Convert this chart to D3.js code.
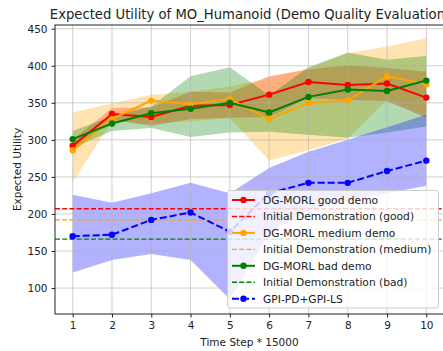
<!DOCTYPE html>
<html>
<head>
<meta charset="utf-8">
<script src="https://cdn.jsdelivr.net/npm/d3@7"></script>
<style>
  body { margin: 0; background: #fff; }
  text { font-family: "DejaVu Sans", sans-serif; fill: #222; }
</style>
</head>
<body>
<svg id="chart" width="443" height="351"></svg>
<script>
// Data
const steps = [1, 2, 3, 4, 5, 6, 7, 8, 9, 10];

const goodMean  = [292, 335, 331, 346, 347, 361, 378, 374, 376, 357];
const goodLow   = [284, 327, 319, 328, 330, 331, 356, 354, 352, 330];
const goodHigh  = [300, 343, 344, 365, 364, 386, 395, 401, 397, 392];

const mediumMean = [286, 328, 353, 348, 355, 328, 350, 353, 386, 375];
const mediumLow  = [243, 325, 322, 325, 329, 272, 286, 302, 354, 334];
const mediumHigh = [337, 349, 361, 365, 372, 383, 397, 417, 426, 437];

const badMean = [301, 322, 336, 342, 350, 337, 358, 368, 366, 380];
const badLow  = [289, 312, 316, 304, 310, 311, 307, 303, 310, 318];
const badHigh = [312, 332, 345, 386, 398, 360, 398, 418, 408, 413];

const gpiMean = [170, 172, 192, 202, 176, 228, 242, 242, 258, 272];
const gpiLow  = [121, 138, 146, 138, 85, 175, 205, 218, 228, 238];
const gpiHigh = [226, 215, 228, 242, 228, 262, 284, 300, 317, 334];

const initGood = 207, initMedium = 192, initBad = 166;

const xTicks = [1, 2, 3, 4, 5, 6, 7, 8, 9, 10];
const yTicks = [100, 150, 200, 250, 300, 350, 400, 450];

// The svg
const svg = d3.select("#chart");
const mLeft = 55, mRight = 444, mTop = 25, mBottom = 314;

const x = d3.scaleLinear().domain([0.55, 10.45]).range([mLeft, mRight]);
const y = d3.scaleLinear().domain([65, 455]).range([mBottom, mTop]);

const series = [
  {label: "DG-MORL good demo", color: "red", mean: goodMean, low: goodLow, high: goodHigh, dash: null},
  {label: "DG-MORL medium demo", color: "orange", mean: mediumMean, low: mediumLow, high: mediumHigh, dash: null},
  {label: "DG-MORL bad demo", color: "green", mean: badMean, low: badLow, high: badHigh, dash: null},
  {label: "GPI-PD+GPI-LS", color: "blue", mean: gpiMean, low: gpiLow, high: gpiHigh, dash: "7,3"}
];

// bands first
const area = d3.area()
  .x((d, i) => x(steps[i]))
  .y0(d => y(d[0]))
  .y1(d => y(d[1]));

series.forEach(s => {
  svg.append("path")
    .datum(s.low.map((v, i) => [v, s.high[i]]))
    .attr("d", area)
    .attr("fill", s.color)
    .attr("fill-opacity", 0.3);
});

// grid
const grid = svg.append("g");
xTicks.forEach(t => {
  grid.append("line")
    .attr("x1", x(t)).attr("x2", x(t))
    .attr("y1", mTop).attr("y2", mBottom)
    .attr("stroke", "#b0b0b0").attr("stroke-opacity", 0.6).attr("stroke-width", 1);
});
yTicks.forEach(t => {
  grid.append("line")
    .attr("x1", mLeft).attr("x2", mRight)
    .attr("y1", y(t)).attr("y2", y(t))
    .attr("stroke", "#b0b0b0").attr("stroke-opacity", 0.6).attr("stroke-width", 1);
});

// initial demonstration lines
const inits = [
  {label: "Initial Demonstration (good)", color: "red", value: initGood},
  {label: "Initial Demonstration (medium)", color: "orange", value: initMedium},
  {label: "Initial Demonstration (bad)", color: "green", value: initBad}
];
inits.forEach(h => {
  svg.append("line")
    .attr("x1", mLeft).attr("x2", mRight)
    .attr("y1", y(h.value)).attr("y2", y(h.value))
    .attr("stroke", h.color).attr("stroke-width", 1.4)
    .attr("stroke-dasharray", "5,2.2");
});

// mean lines
const line = d3.line()
  .x((d, i) => x(steps[i]))
  .y(d => y(d));

series.forEach(s => {
  svg.append("path")
    .datum(s.mean)
    .attr("d", line)
    .attr("fill", "none")
    .attr("stroke", s.color)
    .attr("stroke-width", 2)
    .attr("stroke-dasharray", s.dash);
  svg.append("g")
    .selectAll("circle")
    .data(s.mean)
    .enter()
    .append("circle")
      .attr("cx", (d, i) => x(steps[i]))
      .attr("cy", d => y(d))
      .attr("r", 3.2)
      .attr("fill", s.color);
});

// axes
const xAxis = svg.append("g")
  .attr("transform", `translate(0,${mBottom})`)
  .call(d3.axisBottom(x).tickValues(xTicks).tickSize(3.5).tickPadding(4).tickSizeOuter(0));
const yAxis = svg.append("g")
  .attr("transform", `translate(${mLeft},0)`)
  .call(d3.axisLeft(y).tickValues(yTicks).tickSize(3.5).tickPadding(4).tickSizeOuter(0));
[xAxis, yAxis].forEach(a => {
  a.select(".domain").remove();
  a.selectAll("text").style("font-family", "DejaVu Sans").style("font-size", "10.5px").attr("fill", "#222");
  a.selectAll("line").attr("stroke", "#222");
});

// spines
svg.append("rect")
  .attr("x", mLeft).attr("y", mTop)
  .attr("width", mRight - mLeft).attr("height", mBottom - mTop)
  .attr("fill", "none").attr("stroke", "#222").attr("stroke-width", 1);

// titles
svg.append("text")
  .attr("x", 250).attr("y", 19)
  .attr("text-anchor", "middle")
  .style("font-size", "13.2px")
  .text("Expected Utility of MO_Humanoid (Demo Quality Evaluation)");
svg.append("text")
  .attr("x", (mLeft + mRight) / 2).attr("y", 346)
  .attr("text-anchor", "middle")
  .style("font-size", "10.5px")
  .text("Time Step * 15000");
svg.append("text")
  .attr("transform", `translate(21,${(mTop + mBottom) / 2}) rotate(-90)`)
  .attr("text-anchor", "middle")
  .style("font-size", "10.5px")
  .text("Expected Utility");

// legend
const legendItems = [
  {label: series[0].label, color: "red", dash: null, marker: true},
  {label: inits[0].label, color: "red", dash: "5,2.2", marker: false},
  {label: series[1].label, color: "orange", dash: null, marker: true},
  {label: inits[1].label, color: "orange", dash: "5,2.2", marker: false},
  {label: series[2].label, color: "green", dash: null, marker: true},
  {label: inits[2].label, color: "green", dash: "5,2.2", marker: false},
  {label: series[3].label, color: "blue", dash: "7,3", marker: true}
];
const lg = svg.append("g");
lg.append("rect")
  .attr("x", 227.5).attr("y", 190.5)
  .attr("width", 211).attr("height", 117.5)
  .attr("rx", 3)
  .attr("fill", "white").attr("fill-opacity", 0.8)
  .attr("stroke", "#cccccc").attr("stroke-width", 1);
legendItems.forEach((d, i) => {
  const cy = 200 + i * 16.45;
  lg.append("line")
    .attr("x1", 232).attr("x2", 255)
    .attr("y1", cy).attr("y2", cy)
    .attr("stroke", d.color)
    .attr("stroke-width", d.marker ? 2 : 1.4)
    .attr("stroke-dasharray", d.dash);
  if (d.marker) {
    lg.append("circle")
      .attr("cx", 243.5).attr("cy", cy).attr("r", 3.2)
      .attr("fill", d.color);
  }
  lg.append("text")
    .attr("x", 263).attr("y", cy + 3.8)
    .style("font-size", "10.7px")
    .text(d.label);
});
</script>
</body>
</html>
